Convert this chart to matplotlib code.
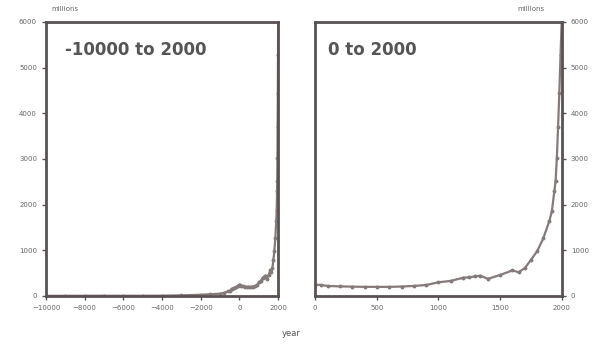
import matplotlib
matplotlib.use("Agg")
import matplotlib.pyplot as plt

# Early period (BC) estimates, millions
early_years = [-10000, -9000, -8000, -7000, -6000, -5000, -4000, -3000, -2000,
               -1500, -1000, -800, -600, -500, -400, -300, -200, -100]
early_pop = [4, 4, 5, 5, 5, 5, 7, 14, 27, 40, 50, 70, 100, 110, 160, 180, 190, 220]

# Common era estimates, millions
ce_years = [0, 50, 100, 200, 300, 400, 500, 600, 700, 800, 900, 1000, 1100,
            1200, 1250, 1300, 1340, 1400, 1500, 1600, 1650, 1700, 1750, 1800,
            1850, 1900, 1920, 1940, 1950, 1960, 1970, 1980, 1990, 2000]
ce_pop = [250, 240, 220, 210, 205, 200, 200, 200, 207, 220, 240, 300, 330,
          400, 410, 430, 445, 375, 460, 560, 520, 610, 790, 980,
          1260, 1650, 1860, 2300, 2520, 3020, 3700, 4440, 5270, 6070]

all_years = early_years + ce_years
all_pop = early_pop + ce_pop

left_xticks = [-10000, -8000, -6000, -4000, -2000, 0, 2000]
right_xticks = [0, 500, 1000, 1500, 2000]
yticks = [0, 1000, 2000, 3000, 4000, 5000, 6000]

line_color = "#857a7a"
spine_color = "#5a5252"

fig = plt.figure(figsize=(5.97, 3.47), dpi=100)
ax1 = fig.add_axes([0.077, 0.147, 0.389, 0.790])
ax2 = fig.add_axes([0.528, 0.147, 0.413, 0.790])

for ax in (ax1, ax2):
    for s in ax.spines.values():
        s.set_color(spine_color)
        s.set_linewidth(2.0)
    ax.tick_params(direction="out", length=3, width=1, colors=spine_color,
                   labelsize=5, labelcolor="#666666")
    ax.set_ylim(0, 6000)
    ax.set_yticks(yticks)

ax1.plot(all_years, all_pop, color=line_color, lw=1.6, marker="o", ms=1.8,
         mfc=line_color, mec=line_color)
ax1.set_xlim(-10000, 2000)
ax1.set_xticks(left_xticks)
ax1.text(0.08, 0.93, "-10000 to 2000", transform=ax1.transAxes, fontsize=12,
         fontweight="bold", color="#555555", va="top", ha="left")
fig.text(0.108, 0.965, "millions", fontsize=5, color="#666666", ha="center", va="bottom")

ax2.plot(ce_years, ce_pop, color=line_color, lw=1.6, marker="o", ms=1.8,
         mfc=line_color, mec=line_color)
ax2.set_xlim(0, 2000)
ax2.set_xticks(right_xticks)
ax2.yaxis.tick_right()
ax2.yaxis.set_label_position("right")
ax2.text(0.05, 0.93, "0 to 2000", transform=ax2.transAxes, fontsize=12,
         fontweight="bold", color="#555555", va="top", ha="left")
fig.text(0.89, 0.965, "millions", fontsize=5, color="#666666", ha="center", va="bottom")

fig.text(0.487, 0.025, "year", fontsize=6, color="#555555", ha="center", va="bottom")

fig.savefig("out.png", dpi=100, facecolor="white")
